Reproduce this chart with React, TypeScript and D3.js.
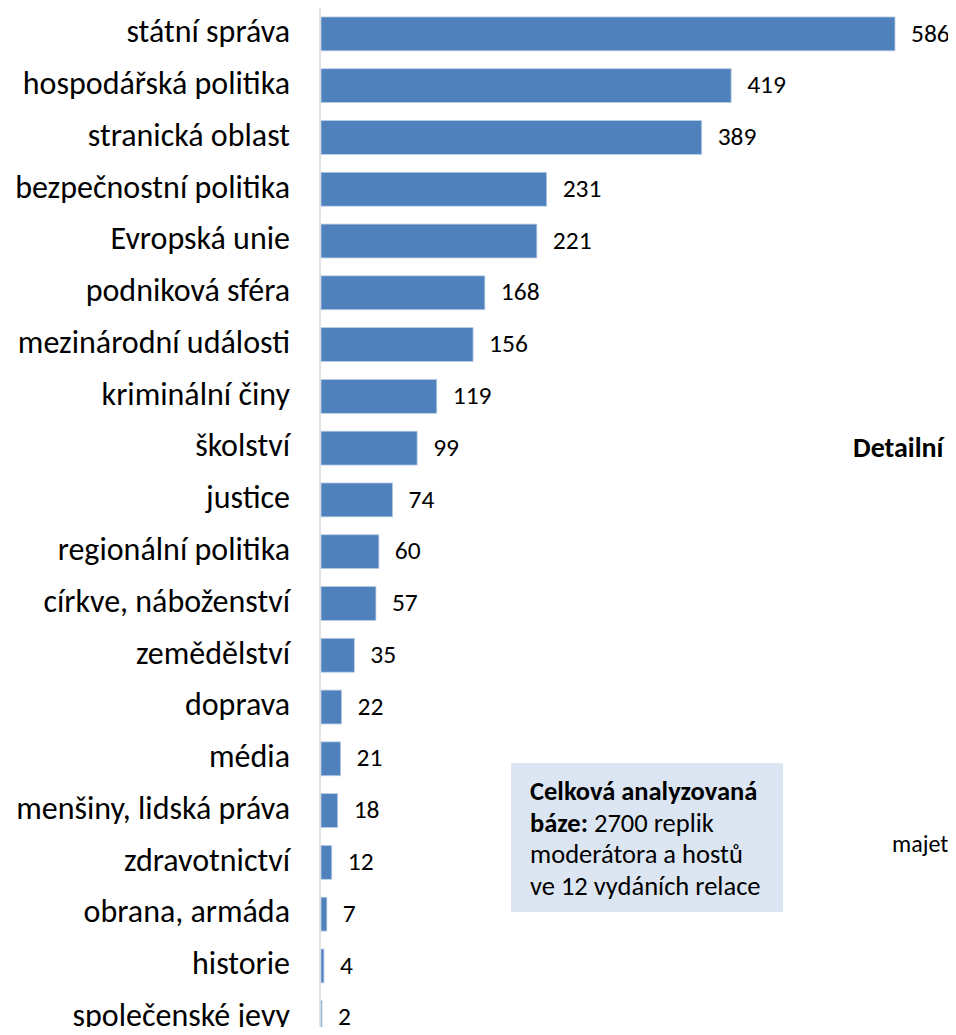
import React from "react";
import * as d3 from "d3";

const categories = [
  "státní správa",
  "hospodářská politika",
  "stranická oblast",
  "bezpečnostní politika",
  "Evropská unie",
  "podniková sféra",
  "mezinárodní události",
  "kriminální činy",
  "školství",
  "justice",
  "regionální politika",
  "církve, náboženství",
  "zemědělství",
  "doprava",
  "média",
  "menšiny, lidská práva",
  "zdravotnictví",
  "obrana, armáda",
  "historie",
  "společenské jevy",
];

const values = [586, 419, 389, 231, 221, 168, 156, 119, 99, 74, 60, 57, 35, 22, 21, 18, 12, 7, 4, 2];

const noteLines = [
  [{ t: "Celková analyzovaná", b: true }],
  [{ t: "báze:", b: true }, { t: " 2700 replik", b: false }],
  [{ t: "moderátora a hostů", b: false }],
  [{ t: "ve 12 vydáních relace", b: false }],
];

const W = 956;
const H = 1035;
const FONT = "Carlito, Calibri, Lato, sans-serif";

export default function App() {
  const x0 = 320;
  const x = d3.scaleLinear().domain([0, 586]).range([x0, 895]);
  const y = d3
    .scaleBand<string>()
    .domain(categories)
    .range([8, 8 + 51.78 * categories.length])
    .paddingInner(0.346)
    .paddingOuter(0.173);

  return (
    <div style={{ margin: -8, width: W, height: H, overflow: "hidden", background: "#fff" }}>
      <svg width={W} height={H} style={{ display: "block", fontFamily: FONT }}>
        <line x1={x0} x2={x0} y1={8} y2={H} stroke="#d9d9d9" strokeWidth={1.5} />
        {categories.map((c, i) => {
          const yy = y(c)!;
          const bh = y.bandwidth();
          return (
            <g key={c}>
              <rect
                x={x0 + 1}
                y={yy}
                width={Math.max(0, x(values[i]) - x0 - 1)}
                height={bh}
                fill="#4f81bd"
                stroke="#b9cde5"
                strokeWidth={0.8}
              />
              <text
                x={290}
                y={yy + bh / 2}
                dy="0.26em"
                textAnchor="end"
                fontSize={32}
                fill="#000"
              >
                {c}
              </text>
              <text x={x(values[i]) + 16} y={yy + bh / 2} dy="0.3em" fontSize={25.5} fill="#000">
                {values[i]}
              </text>
            </g>
          );
        })}
        <rect x={511} y={763} width={272} height={149} fill="#dce6f2" />
        {noteLines.map((ln, i) => (
          <text key={i} x={530} y={800 + i * 31.6} fontSize={26.5} fill="#000">
            {ln.map((s, j) => (
              <tspan key={j} fontWeight={s.b ? "bold" : "normal"}>
                {s.t}
              </tspan>
            ))}
          </text>
        ))}
        <text x={853} y={457} fontSize={28} fontWeight="bold" fill="#000">
          Detailní
        </text>
        <text x={892} y={852} fontSize={24} fill="#000">
          majet
        </text>
      </svg>
    </div>
  );
}
